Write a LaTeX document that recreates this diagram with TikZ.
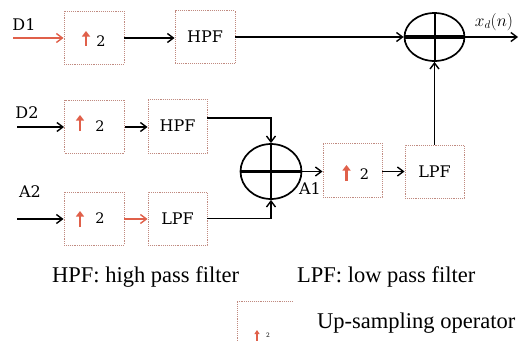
\documentclass[tikz,border=0pt]{standalone}
\usepackage{fontspec}
\setmainfont{DejaVu Serif}
\newfontfamily\legfont{Liberation Serif}
\usetikzlibrary{arrows.meta,shapes.geometric}
\definecolor{arrred}{HTML}{E0604A}
\definecolor{boxline}{HTML}{C08A80}
\begin{document}
\begin{tikzpicture}[x=1pt,y=-1pt,
 blk/.style={draw=boxline, densely dotted, line width=0.9pt, minimum width=60pt, minimum height=53pt, inner sep=0pt, font=\fontsize{16}{18}\selectfont},
 sumnode/.style={draw, ellipse, line width=1.7pt, minimum width=60pt, minimum height=48pt, inner sep=0pt},
 sig/.style={line width=1.4pt, -{Straight Barb[length=6pt,width=9pt]}},
 sigred/.style={sig, draw=arrred},
 uparr/.style={draw=arrred, line width=2.4pt, -{Triangle[length=5.5pt,width=8pt]}},
 num/.style={font=\fontsize{14.5}{16}\selectfont, inner sep=0pt},
 lab/.style={font=\fontsize{16}{18}\selectfont, inner sep=0pt},
 leg/.style={font=\legfont\fontsize{22.5}{24}\selectfont, inner sep=0pt, anchor=base west}
]
\useasboundingbox (0,0) rectangle (529,340);
% blocks
\node[blk] (b1) at (94,37.5) {};
\node[blk] (h1) at (205,37) {HPF};
\node[sumnode] (s1) at (434.5,37) {};
\node[blk] (b2) at (94.5,126.5) {};
\node[blk, minimum width=59pt, minimum height=54pt] (h2) at (177.5,126) {HPF};
\node[blk] (b3) at (94,218.5) {};
\node[blk, minimum width=59pt] (l3) at (177.5,218.5) {LPF};
\node[sumnode, minimum width=61pt, minimum height=55pt] (s2) at (271,171.5) {};
\node[blk, minimum width=59pt, minimum height=54pt] (b4) at (352.5,170) {};
\node[blk, minimum width=59pt] (l4) at (434.5,171.5) {LPF};
% plus signs
\draw[line width=3.2pt] (s1.west) -- (s1.east);
\draw[line width=2pt] (s1.north) -- (s1.south);
\draw[line width=3.2pt] (s2.west) -- (s2.east);
\draw[line width=2pt] (s2.north) -- (s2.south);
% upsampling symbols
\draw[uparr] (86,45.5) -- (86,31);
\node[num] (n1) at (101,41.5) {2};
\draw[uparr] (80,131) -- (80,115);
\node[num] (n2) at (100,126.5) {2};
\draw[uparr] (80,227) -- (80,211);
\node[num] (n3) at (100,218.5) {2};
\draw[uparr] (346.5,181) -- (346.5,165);
\node[num] (n4) at (364.5,174.5) {2};
% input labels
\node[lab] (D1) at (24,25) {D1};
\node[lab] (D2) at (27,112.5) {D2};
\node[lab] (A2) at (30,191.5) {A2};
\node[lab] (A1) at (310,189) {A1};
\node[font=\fontsize{16}{18}\selectfont, inner sep=0pt] (xd) at (494,22) {$x_d(n)$};
% inputs
\coordinate (d1in) at (13,38);
\coordinate (d2in) at (17,127);
\coordinate (a2in) at (17,219);
\coordinate (xout) at (518,37);
\draw[sigred] (d1in) -- (d1in -| b1.west);
\draw[sig] (d2in) -- (d2in -| b2.west);
\draw[sig] (a2in) -- (a2in -| b3.west);
% connections
\draw[sig] (b1.east |- d1in) -- (d1in -| h1.west);
\draw[sig] (h1.east) -- (s1.west);
\draw[sig] (s1.east) -- (xout);
\draw[sig] (b2.east |- d2in) -- (d2in -| h2.west);
\draw[sigred] (b3.east |- a2in) -- (a2in -| l3.west);
\draw[sig] ([yshift=8pt]h2.east) -| (s2.north);
\draw[sig] (l3.east) -| (s2.south);
\draw[sig] (s2.east) -- (s2.east -| b4.west);
\draw[sig] (b4.east |- s2.east) -- (s2.east -| l4.west);
\draw[sig] (l4.north) -- (s1.south);
% legend
\node[leg] (lh) at (52,282) {HPF: high pass filter};
\node[leg] (ll) at (297,282) {LPF: low pass filter};
\node[leg] (lu) at (317,328) {Up-sampling operator};
\coordinate (lbA) at (237,345);
\coordinate (lbB) at (237,301);
\coordinate (lbC) at (293,301);
\draw[draw=boxline, densely dotted, line width=0.9pt] (lbA) -- (lbB) -- (lbC);
\draw[draw=arrred, line width=1.3pt, -{Triangle[length=4pt,width=5pt]}] (257,343) -- (257,330);
\node[font=\fontsize{6}{7}\selectfont, inner sep=0pt] (ln) at (268,335) {2};
\end{tikzpicture}
\end{document}
